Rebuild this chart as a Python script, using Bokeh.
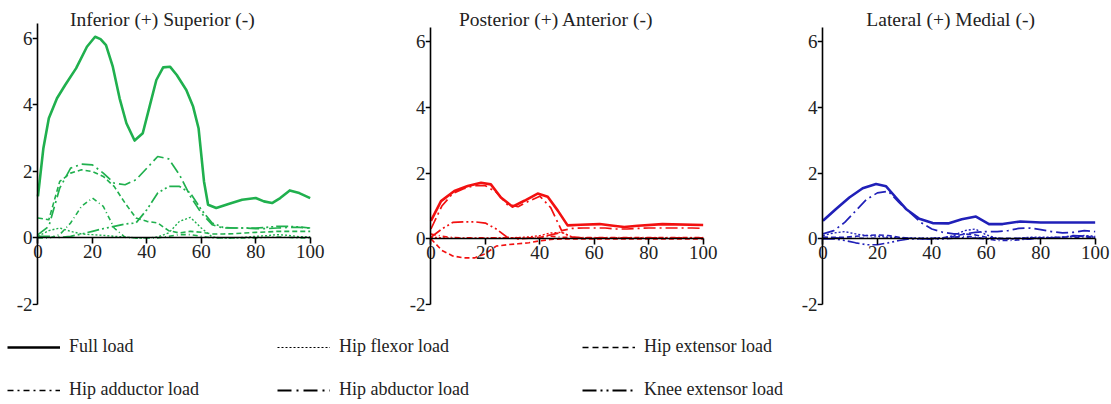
from bokeh.plotting import figure
from bokeh.layouts import row, column
from bokeh.models import Range1d, FixedTicker, Label, Legend, LegendItem, LinearAxis
from bokeh.embed import file_html
from bokeh.resources import INLINE

# ---------------- data ----------------
pct = [0, 4, 8, 12, 16, 20, 24, 28, 32, 36, 40, 44, 48, 52, 56, 60, 64, 68, 72, 76, 80, 84, 88, 92, 96, 100]

series_names = ["Full load", "Hip flexor load", "Hip extensor load",
                "Hip adductor load", "Hip abductor load", "Knee extensor load"]

panel_titles = ["Inferior (+) Superior (-)", "Posterior (+) Anterior (-)", "Lateral (+) Medial (-)"]

x_ticks = [0, 20, 40, 60, 80, 100]
y_ticks = [-2, 0, 2, 4, 6]

# Inferior (+) / Superior (-)
x_full_si = [0, 2, 4, 7, 10, 14, 18, 21, 23, 25, 27.5, 30, 32.5, 35.5, 38.5, 41, 43.5, 46, 48.5, 51, 54.5, 57, 59, 61, 62.5, 65.5, 70, 75, 80, 83, 86, 89, 92.5, 96, 100]
full_si = [1.25, 2.7, 3.6, 4.2, 4.6, 5.1, 5.75, 6.05, 5.98, 5.8, 5.15, 4.2, 3.45, 2.93, 3.15, 3.95, 4.75, 5.13, 5.15, 4.9, 4.45, 3.95, 3.3, 1.7, 1.0, 0.9, 1.02, 1.15, 1.2, 1.1, 1.05, 1.2, 1.43, 1.35, 1.2]
flex_si = [0.05, 0.22, 0.3, 0.2, 0.12, 0.1, 0.08, 0.05, 0.03, 0.0, 0.0, 0.03, 0.15, 0.5, 0.62, 0.3, 0.03, 0.0, 0.0, 0.02, 0.05, 0.07, 0.1, 0.08, 0.04, 0.03]
ext_si = [0.6, 0.55, 1.7, 1.95, 2.05, 2.0, 1.85, 1.55, 1.05, 0.6, 0.5, 0.45, 0.22, 0.15, 0.2, 0.17, 0.12, 0.12, 0.13, 0.15, 0.17, 0.18, 0.2, 0.2, 0.2, 0.2]
add_si = [0.0, 0.0, 0.1, 0.45, 0.95, 1.2, 0.95, 0.3, 0.02, 0.0, 0.0, 0.0, 0.05, 0.1, 0.1, 0.05, 0.0, 0.0, 0.0, 0.0, 0.0, 0.02, 0.03, 0.02, 0.0, 0.0]
abd_si = [0.1, 0.35, 1.5, 2.1, 2.22, 2.2, 1.95, 1.65, 1.6, 1.75, 2.1, 2.45, 2.38, 1.9, 1.25, 0.75, 0.4, 0.3, 0.3, 0.3, 0.28, 0.28, 0.3, 0.32, 0.32, 0.3]
kne_si = [0.05, 0.05, 0.02, 0.05, 0.12, 0.2, 0.28, 0.35, 0.42, 0.45, 0.85, 1.35, 1.55, 1.55, 1.35, 0.85, 0.45, 0.32, 0.3, 0.3, 0.3, 0.32, 0.35, 0.35, 0.33, 0.3]

# Posterior (+) / Anterior (-)
x_full_pa = [0, 3.7, 8.6, 13.5, 18.4, 22, 25.7, 30, 34.3, 39.2, 42.9, 46.6, 50.2, 55, 62, 67, 71, 76, 85, 100]
full_pa = [0.55, 1.15, 1.46, 1.61, 1.71, 1.66, 1.26, 0.98, 1.16, 1.38, 1.28, 0.86, 0.41, 0.43, 0.45, 0.4, 0.36, 0.4, 0.45, 0.42]
flex_pa = [0.05, 0.03, 0.02, 0.02, 0.02, 0.02, 0.03, 0.03, 0.04, 0.06, 0.1, 0.18, 0.2, 0.05, 0.02, 0.02, 0.02, 0.02, 0.02, 0.02, 0.02, 0.02, 0.02, 0.02, 0.02, 0.02]
ext_pa = [0.0, -0.35, -0.52, -0.58, -0.58, -0.45, -0.22, -0.18, -0.15, -0.12, -0.06, -0.02, 0.0, 0.0, 0.0, 0.0, 0.0, 0.0, 0.0, 0.0, 0.0, 0.0, 0.0, 0.0, 0.0, 0.0]
add_pa = [0.15, 0.08, 0.04, 0.03, 0.03, 0.03, 0.03, 0.03, 0.03, 0.03, 0.05, 0.08, 0.05, 0.04, 0.04, 0.04, 0.04, 0.04, 0.04, 0.04, 0.04, 0.04, 0.04, 0.04, 0.04, 0.04]
abd_pa = [0.3, 1.0, 1.38, 1.53, 1.62, 1.62, 1.42, 1.05, 0.98, 1.15, 1.3, 0.95, 0.25, 0.32, 0.33, 0.33, 0.33, 0.3, 0.3, 0.32, 0.33, 0.33, 0.33, 0.33, 0.33, 0.32]
kne_pa = [0.05, 0.3, 0.5, 0.52, 0.52, 0.48, 0.3, 0.05, 0.0, 0.02, 0.05, 0.12, 0.2, 0.05, 0.03, 0.03, 0.03, 0.03, 0.03, 0.03, 0.03, 0.03, 0.03, 0.03, 0.03, 0.03]

# Lateral (+) / Medial (-)
x_full_lm = [0, 4.8, 9.7, 14.6, 19.5, 23.2, 26.8, 30.5, 35.4, 40.3, 46, 51, 56.2, 61, 66, 72.5, 80, 90, 100]
full_lm = [0.55, 0.91, 1.26, 1.54, 1.67, 1.6, 1.26, 0.91, 0.61, 0.48, 0.47, 0.6, 0.68, 0.45, 0.45, 0.53, 0.5, 0.5, 0.5]
flex_lm = [0.1, 0.18, 0.22, 0.15, 0.1, 0.08, 0.05, 0.03, 0.02, 0.02, 0.02, 0.03, 0.1, 0.25, 0.3, 0.12, 0.02, 0.0, 0.02, 0.05, 0.05, 0.05, 0.05, 0.08, 0.1, 0.08]
ext_lm = [0.05, 0.05, 0.05, 0.08, 0.1, 0.12, 0.1, 0.05, 0.02, 0.0, 0.0, 0.03, 0.08, 0.15, 0.12, 0.05, 0.02, 0.02, 0.02, 0.03, 0.03, 0.03, 0.05, 0.08, 0.08, 0.05]
add_lm = [0.05, 0.03, 0.02, 0.02, 0.02, 0.02, 0.02, 0.02, 0.02, 0.02, 0.02, 0.03, 0.05, 0.08, 0.05, 0.0, -0.05, -0.05, -0.03, 0.0, 0.02, 0.02, 0.02, 0.03, 0.05, 0.05]
abd_lm = [0.15, 0.25, 0.5, 0.85, 1.2, 1.4, 1.45, 1.1, 0.8, 0.5, 0.3, 0.2, 0.15, 0.15, 0.2, 0.22, 0.22, 0.25, 0.32, 0.33, 0.28, 0.22, 0.18, 0.2, 0.25, 0.22]
kne_lm = [0.0, 0.0, -0.05, -0.12, -0.18, -0.18, -0.12, -0.05, 0.0, 0.0, 0.0, 0.0, 0.02, 0.03, 0.02, 0.0, 0.0, 0.0, 0.0, 0.0, 0.02, 0.03, 0.05, 0.1, 0.08, 0.05]

panels_x = [
    [x_full_si, pct, pct, pct, pct, pct],
    [x_full_pa, pct, pct, pct, pct, pct],
    [x_full_lm, pct, pct, pct, pct, pct],
]
panels_data = [
    [full_si, flex_si, ext_si, add_si, abd_si, kne_si],
    [full_pa, flex_pa, ext_pa, add_pa, abd_pa, kne_pa],
    [full_lm, flex_lm, ext_lm, add_lm, abd_lm, kne_lm],
]

# ---------------- styles ----------------
FONT = "Liberation Serif"
TXT = "#222222"
panel_colors = ["#20b04e", "#f21010", "#2020b8"]
dashes = ["solid", "2 2", "5 3", "5 3 1 3", "12 4 2 4", "12 3 2 3 2 3"]
widths = [2.6, 1.4, 1.6, 1.6, 1.7, 1.7]
legend_dashes = ["solid", "2 2", "6 4", "6 4 2 4", "14 5 2 5", "14 4 2 4 2 4"]
legend_widths = [2.6, 1.1, 1.5, 1.5, 2.0, 2.0]

# per-panel layout: (fig width, border left, border right, y top, border bottom, title x, title y)
layouts = [
    (393, 32, 67, 7.14, 31, 45.7, 6.554),
    (393, 32, 67, 7.26, 27, 46.0, 6.674),
    (325, 31, 0, 7.26, 27, 46.9, 6.674),
]


def make_panel(k):
    w, bl, br, ytop, bb, tx, ty = layouts[k]
    p = figure(width=w, height=336, x_range=Range1d(-2, 106), y_range=Range1d(-2.03, ytop),
               output_backend="svg", toolbar_location=None, title=None,
               min_border_left=bl, min_border_right=br, min_border_top=0, min_border_bottom=bb)
    p.grid.visible = False
    p.outline_line_color = None
    p.background_fill_color = "white"
    p.border_fill_color = "white"

    # x axis drawn at y = 0
    xa = p.xaxis[0]
    xa.fixed_location = 0
    xa.ticker = FixedTicker(ticks=x_ticks)
    xa.bounds = (0, 100)
    xa.axis_line_color = "black"
    xa.axis_line_width = 1.6
    xa.major_tick_line_color = "black"
    xa.major_tick_line_width = 1.6
    xa.major_tick_out = 6
    xa.major_tick_in = 0
    xa.minor_tick_line_color = None
    xa.major_label_text_font = FONT
    xa.major_label_text_font_size = "19px"
    xa.major_label_text_color = TXT
    xa.major_label_standoff = 1

    # y tick labels (regular left axis, at the frame edge)
    ya = p.yaxis[0]
    ya.ticker = FixedTicker(ticks=y_ticks)
    ya.major_label_overrides = {-2: "-2"}
    ya.axis_line_color = None
    ya.major_tick_line_color = None
    ya.minor_tick_line_color = None
    ya.major_tick_out = 0
    ya.major_tick_in = 0
    ya.major_label_standoff = 0
    ya.major_label_text_font = FONT
    ya.major_label_text_font_size = "19px"
    ya.major_label_text_color = TXT

    # y axis line and ticks drawn at x = 0 (its labels are given by the axis above)
    yl = LinearAxis(fixed_location=0, ticker=FixedTicker(ticks=y_ticks), bounds=(-2, 6.45),
                    axis_line_color="black", axis_line_width=1.6,
                    major_tick_line_color="black", major_tick_line_width=1.6,
                    major_tick_out=5, major_tick_in=0, minor_tick_line_color=None,
                    major_label_overrides={t: "" for t in y_ticks},
                    major_label_text_color=None, major_label_standoff=0)
    p.add_layout(yl, "left")

    col = panel_colors[k]
    for i, ys in enumerate(panels_data[k]):
        p.line(panels_x[k][i], ys, line_color=col, line_width=widths[i], line_dash=dashes[i],
               line_join="round")

    p.add_layout(Label(x=tx, y=ty, text=panel_titles[k], text_align="center",
                       text_baseline="alphabetic", text_font=FONT, text_font_size="19.5px",
                       text_color=TXT))
    return p


figs = [make_panel(k) for k in range(3)]

# ---------------- legend strip ----------------
lf = figure(width=1111, height=68, x_range=Range1d(0, 1), y_range=Range1d(0, 1),
            output_backend="svg", toolbar_location=None, title=None,
            x_axis_type=None, y_axis_type=None, min_border=0)
lf.grid.visible = False
lf.outline_line_color = None
nan = float("nan")
rends = [lf.line(x=[nan], y=[nan], line_color="black", line_dash=legend_dashes[i],
                 line_width=legend_widths[i]) for i in range(6)]

legend_cols = [[0, 3], [1, 4], [2, 5]]
legend_x = [7, 277, 582]
for c, idx in enumerate(legend_cols):
    leg = Legend(items=[LegendItem(label=series_names[i], renderers=[rends[i]]) for i in idx],
                 location=(legend_x[c], 4), orientation="vertical",
                 glyph_width=53, glyph_height=20, label_height=20, label_standoff=9,
                 spacing=22, padding=0, margin=0, border_line_color=None,
                 background_fill_alpha=0, label_text_font=FONT, label_text_font_size="18px",
                 label_text_color=TXT)
    lf.add_layout(leg)

layout = column(row(*figs), lf)
open("out.html", "w").write(file_html(layout, INLINE))
